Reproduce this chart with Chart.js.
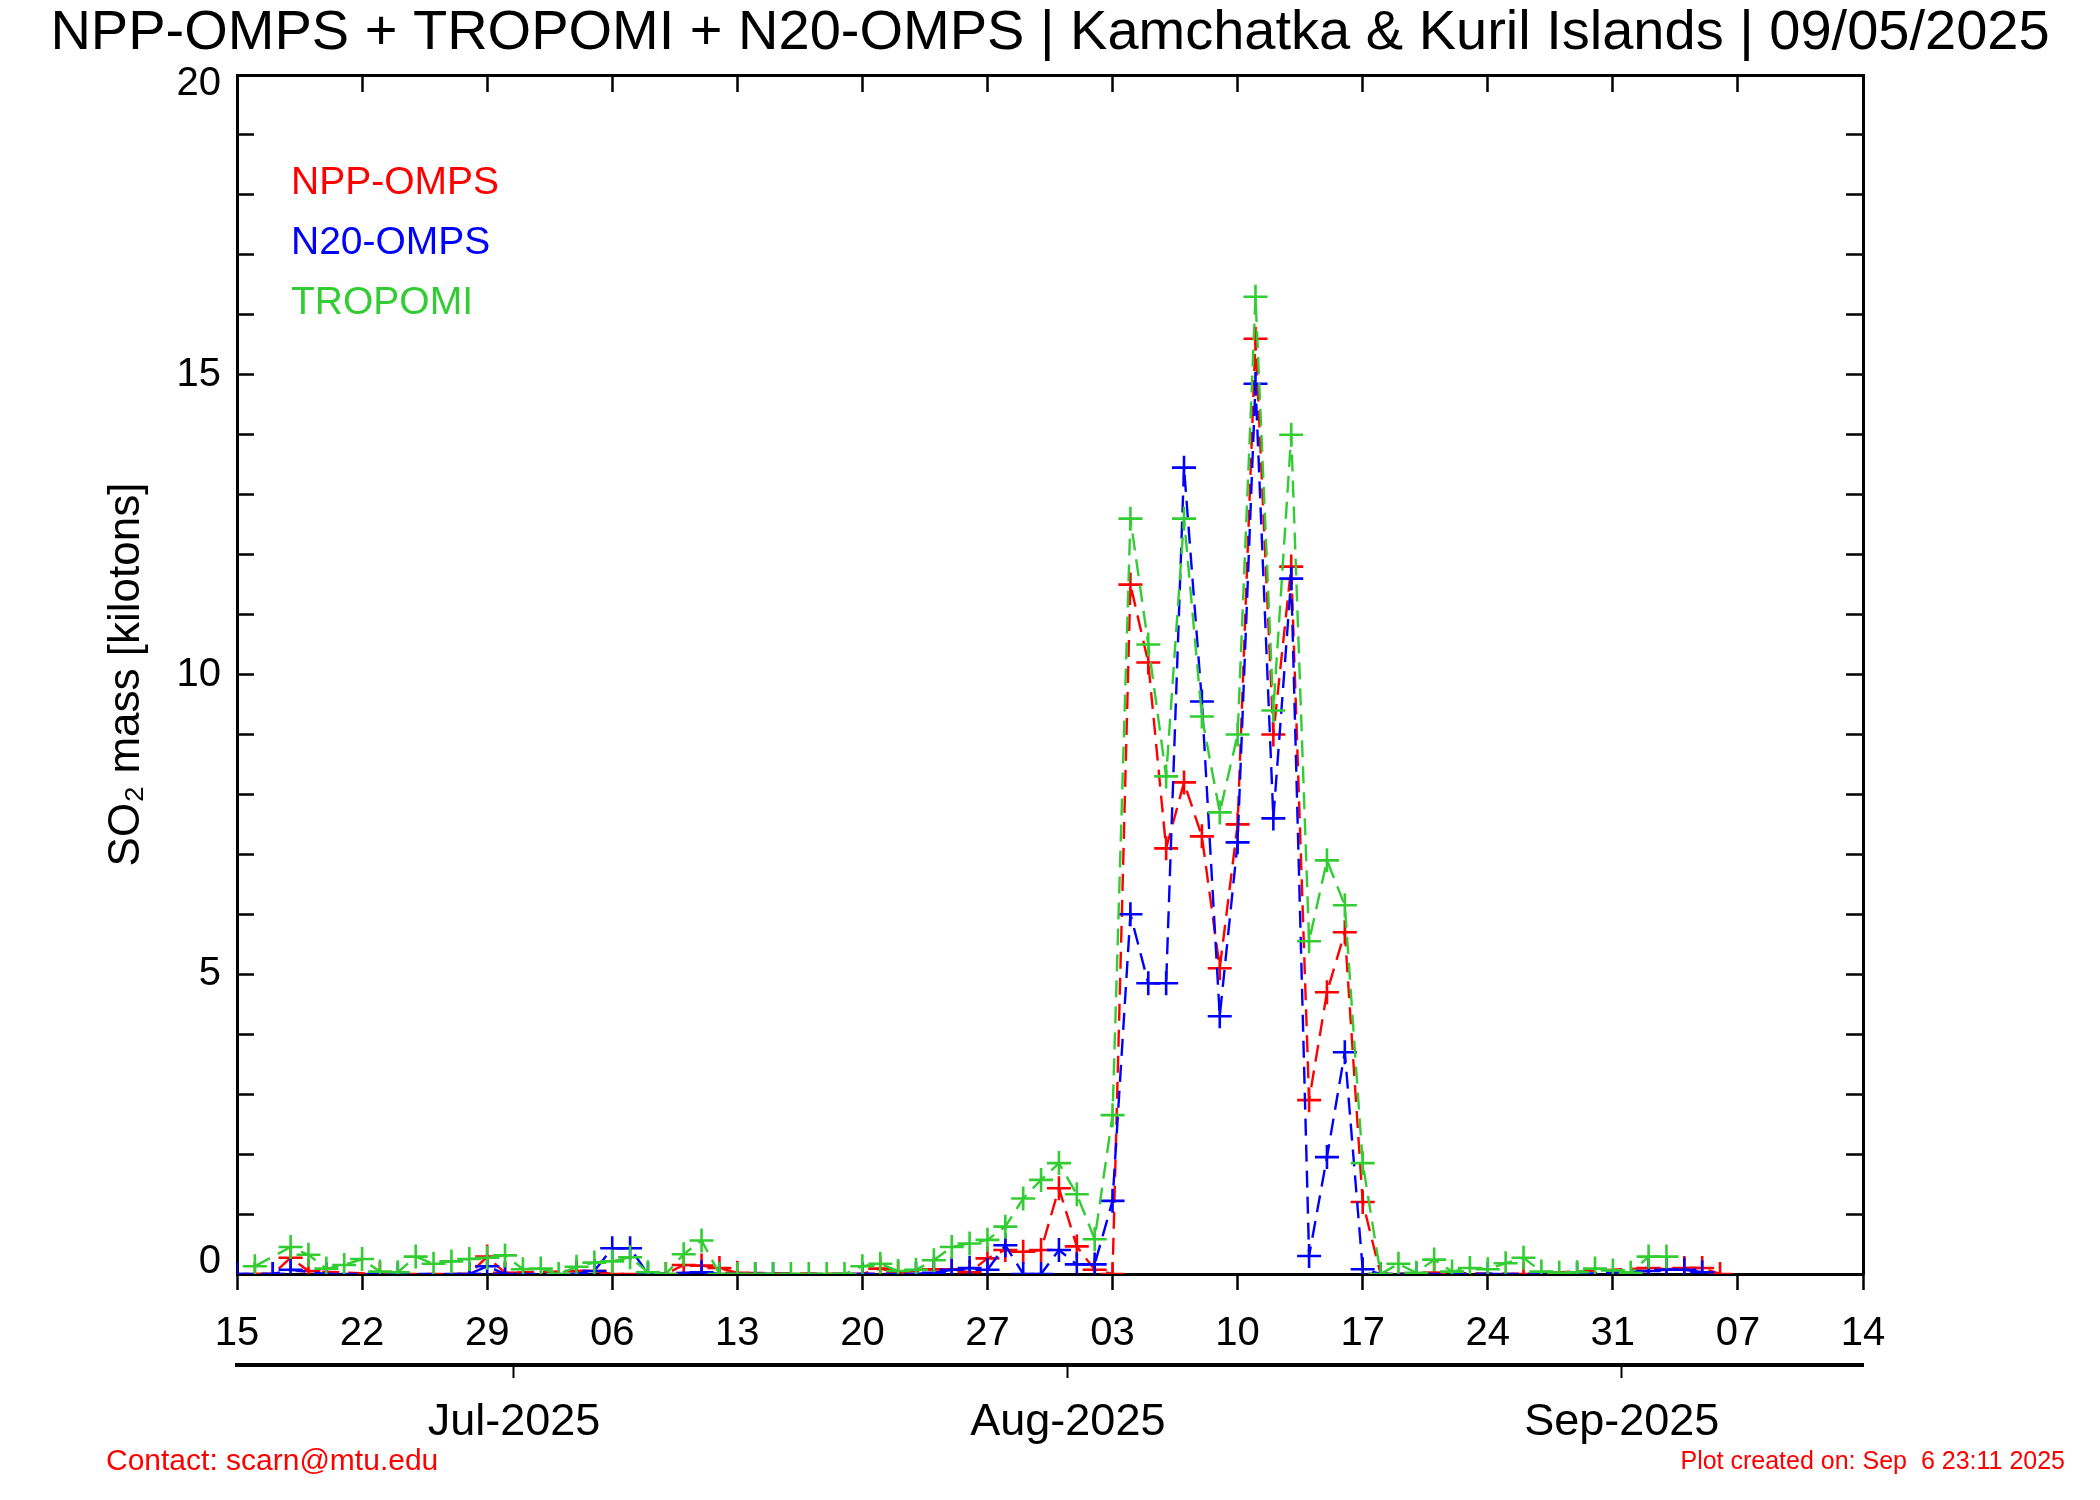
<!DOCTYPE html>
<html>
<head>
<meta charset="utf-8">
<title>SO2 mass - Kamchatka &amp; Kuril Islands</title>
<script src="https://cdn.jsdelivr.net/npm/chart.js@4.4.1/dist/chart.umd.min.js"></script>
<style>
  html, body { margin: 0; padding: 0; background: #fff; }
</style>
</head>
<body>
<canvas id="myChart" width="2100" height="1500"></canvas>
<script>
// days since 15 Jun 2025
var days = [0, 1, 2, 3, 4, 5, 6, 7, 8, 9, 10, 11, 12, 13, 14, 15, 16, 17, 18, 19,
  20, 21, 22, 23, 24, 25, 26, 27, 28, 29, 30, 31, 32, 33, 34, 35, 36, 37, 38, 39,
  40, 41, 42, 43, 44, 45, 46, 47, 48, 49, 50, 51, 52, 53, 54, 55, 56, 57, 58, 59,
  60, 61, 62, 63, 64, 65, 66, 67, 68, 69, 70, 71, 72, 73, 74, 75, 76, 77, 78, 79,
  80, 81, 82, 83];

var nppOmps = [null, 0, 0, 0.27, 0.05, null, null, null, 0, null, null, null, null, 0, 0.29, 0.02, null, null, null, 0.05,
  0.05, 0, null, null, 0, 0.15, 0.14, 0.1, 0.02, null, null, null, null, null, null, 0, 0.09, 0.02, null, 0.08,
  0.08, 0.03, 0.26, 0.4, 0.37, 0.4, 1.43, 0.46, 0.07, 0, 11.5, 10.2, 7.1, 8.2, 7.3, 5.1, 7.5, 15.6, 9.0, 11.8,
  2.9, 4.7, 5.7, 1.2, 0, null, null, 0.02, null, null, null, null, 0, null, null, null, null, null, null, 0.1,
  0.08, 0.1, 0.1, 0];

var n20Omps = [0, null, 0, 0.07, null, 0, null, null, null, 0, null, null, null, 0, 0.13, 0, null, null, null, 0,
  0.05, 0.43, 0.43, 0, null, null, 0.03, 0, null, 0, 0, null, null, null, null, 0, null, null, 0, 0.02,
  0.07, 0.1, 0.07, 0.48, 0, 0, 0.4, 0.16, 0.16, 1.22, 6.0, 4.85, 4.85, 13.45, 9.55, 4.3, 7.2, 14.85, 7.6, 11.6,
  0.3, 1.95, 3.7, 0.08, 0, null, 0, null, null, null, 0, null, null, null, null, 0, null, null, null, 0.05,
  0.07, 0.07, 0.03, null];

var tropomi = [null, 0.13, null, 0.45, 0.32, 0.09, 0.15, 0.25, 0.04, 0.03, 0.29, 0.17, 0.21, 0.25, 0.27, 0.31, 0.08, 0.09, 0, 0.12,
  0.19, 0.21, 0.28, 0.03, 0, 0.33, 0.56, 0, 0, 0, 0, 0, 0, 0, 0, 0.13, 0.17, 0.05, 0.07, 0.23,
  0.45, 0.51, 0.57, 0.79, 1.26, 1.57, 1.85, 1.33, 0.58, 2.65, 12.6, 10.5, 8.3, 12.6, 9.3, 7.7, 9.0, 16.3, 9.4, 14.0,
  5.55, 6.9, 6.15, 1.85, 0, 0.17, 0.02, 0.24, 0.04, 0.1, 0.08, 0.18, 0.27, 0.04, 0.02, 0.03, 0.09, 0.06, 0.02, 0.29,
  0.29, null, null, null];

var seriesNames = ["NPP-OMPS", "N20-OMPS", "TROPOMI"];
var seriesColors = ["#ff0000", "#0000ff", "#32cd32"];

var dayTicks = [0, 7, 14, 21, 28, 35, 42, 49, 56, 63, 70, 77, 84, 91];
var dayTickLabels = ["15", "22", "29", "06", "13", "20", "27", "03", "10", "17", "24", "31", "07", "14"];
var monthTicks = [15.5, 46.5, 77.5];
var monthLabels = ["Jul-2025", "Aug-2025", "Sep-2025"];
var yTickValues = [0, 5, 10, 15, 20];
var yTickLabels = ["0", "5", "10", "15", "20"];

var FONT = "'Liberation Sans', 'DejaVu Sans', Arial, sans-serif";
Chart.defaults.font.family = FONT;
Chart.defaults.color = "#000";

// y labels (end ones nudged inward like the original), legend text, footer
const extraText = {
  id: "extraText",
  afterDraw: function(chart){
    var ctx = chart.ctx;
    var ys = chart.scales.y;
    ctx.save();
    ctx.textBaseline = "middle";
    ctx.textAlign = "right";
    ctx.fillStyle = "#000";
    ctx.font = "40px " + FONT;
    for (var k = 0; k < yTickValues.length; k++) {
      var py = ys.getPixelForValue(yTickValues[k]);
      if (k === 0) py -= 12;
      if (k === yTickValues.length - 1) py += 9;
      ctx.fillText(yTickLabels[k], ys.right - 16, py);
    }
    ctx.textAlign = "left";
    ctx.font = "39px " + FONT;
    for (var i = 0; i < seriesNames.length; i++) {
      ctx.fillStyle = seriesColors[i];
      ctx.fillText(seriesNames[i], 291, 183 + i * 60);
    }
    ctx.fillStyle = "#ff0000";
    ctx.font = "30px " + FONT;
    ctx.fillText("Contact: scarn@mtu.edu", 106, 1462);
    ctx.textAlign = "right";
    ctx.font = "25px " + FONT;
    ctx.fillText("Plot created on: Sep  6 23:11 2025", 2065, 1462);
    ctx.restore();
  }
};

function makeSet(i, values, order){
  return {
    label: seriesNames[i],
    data: values,
    order: order,
    borderColor: seriesColors[i],
    backgroundColor: seriesColors[i],
    borderWidth: 2.4,
    borderDash: [17, 9],
    pointStyle: "cross",
    pointRadius: 12,
    pointBorderWidth: 2.6,
    pointBorderColor: seriesColors[i],
    spanGaps: true,
    tension: 0,
    fill: false,
    clip: 0,
    xAxisID: "x",
    yAxisID: "y"
  };
}

var tickGrid = function(len, w){
  return { drawOnChartArea: false, drawTicks: true, tickLength: len, tickWidth: w, color: "#000" };
};

new Chart("myChart", {
  type: "line",
  data: {
    labels: days,
    datasets: [
      makeSet(0, nppOmps, 2),
      makeSet(1, n20Omps, 1),
      makeSet(2, tropomi, 0)
    ]
  },
  options: {
    responsive: false,
    devicePixelRatio: 1,
    animation: false,
    layout: { padding: 0 },
    plugins: {
      legend: { display: false },
      tooltip: { enabled: false },
      title: {
        display: true,
        text: "NPP-OMPS + TROPOMI + N20-OMPS | Kamchatka & Kuril Islands | 09/05/2025",
        color: "#000",
        font: { size: 56, weight: "normal", lineHeight: 1.1 },
        padding: { top: 3, bottom: 10.4 }
      }
    },
    scales: {
      x: {
        type: "linear", position: "bottom", weight: 0, min: 0, max: 91,
        afterFit: function(s){ s.height = 91; },
        afterBuildTicks: function(s){ s.ticks = dayTicks.map(function(v){ return {value: v}; }); },
        ticks: {
          autoSkip: false, maxRotation: 0, padding: 20, font: { size: 40 },
          callback: function(v, i){ return dayTickLabels[i]; }
        },
        grid: tickGrid(16, 2.5),
        border: { display: true, color: "#000", width: 3 }
      },
      x3: {
        type: "linear", position: "bottom", weight: 1, min: 0, max: 91,
        afterFit: function(s){ s.height = 135; },
        afterBuildTicks: function(s){ s.ticks = monthTicks.map(function(v){ return {value: v}; }); },
        ticks: {
          autoSkip: false, maxRotation: 0, padding: 18, font: { size: 45 },
          callback: function(v, i){ return monthLabels[i]; }
        },
        grid: tickGrid(13, 2),
        border: { display: true, color: "#000", width: 4 }
      },
      x2: {
        type: "linear", position: "top", min: 0, max: 91,
        afterFit: function(s){ s.height = 0; },
        afterBuildTicks: function(s){ s.ticks = dayTicks.map(function(v){ return {value: v}; }); },
        ticks: { display: false },
        grid: tickGrid(-17, 2.5),
        border: { display: true, color: "#000", width: 3 }
      },
      y: {
        type: "linear", position: "left", min: 0, max: 20,
        afterFit: function(s){ s.width = 237; },
        ticks: {
          stepSize: 1, autoSkip: false, padding: 33, font: { size: 40 },
          callback: function(){ return ""; }
        },
        grid: tickGrid(-17, 2.5),
        border: { display: true, color: "#000", width: 3 },
        title: {
          display: true, text: "SO\u2082 mass [kilotons]", color: "#000",
          font: { size: 44 }, padding: { top: 100, bottom: 0 }
        }
      },
      y2: {
        type: "linear", position: "right", min: 0, max: 20,
        afterFit: function(s){ s.width = 237; },
        ticks: { display: false, stepSize: 1 },
        grid: tickGrid(-17, 2.5),
        border: { display: true, color: "#000", width: 3 }
      }
    }
  },
  plugins: [extraText]
});
</script>
</body>
</html>
